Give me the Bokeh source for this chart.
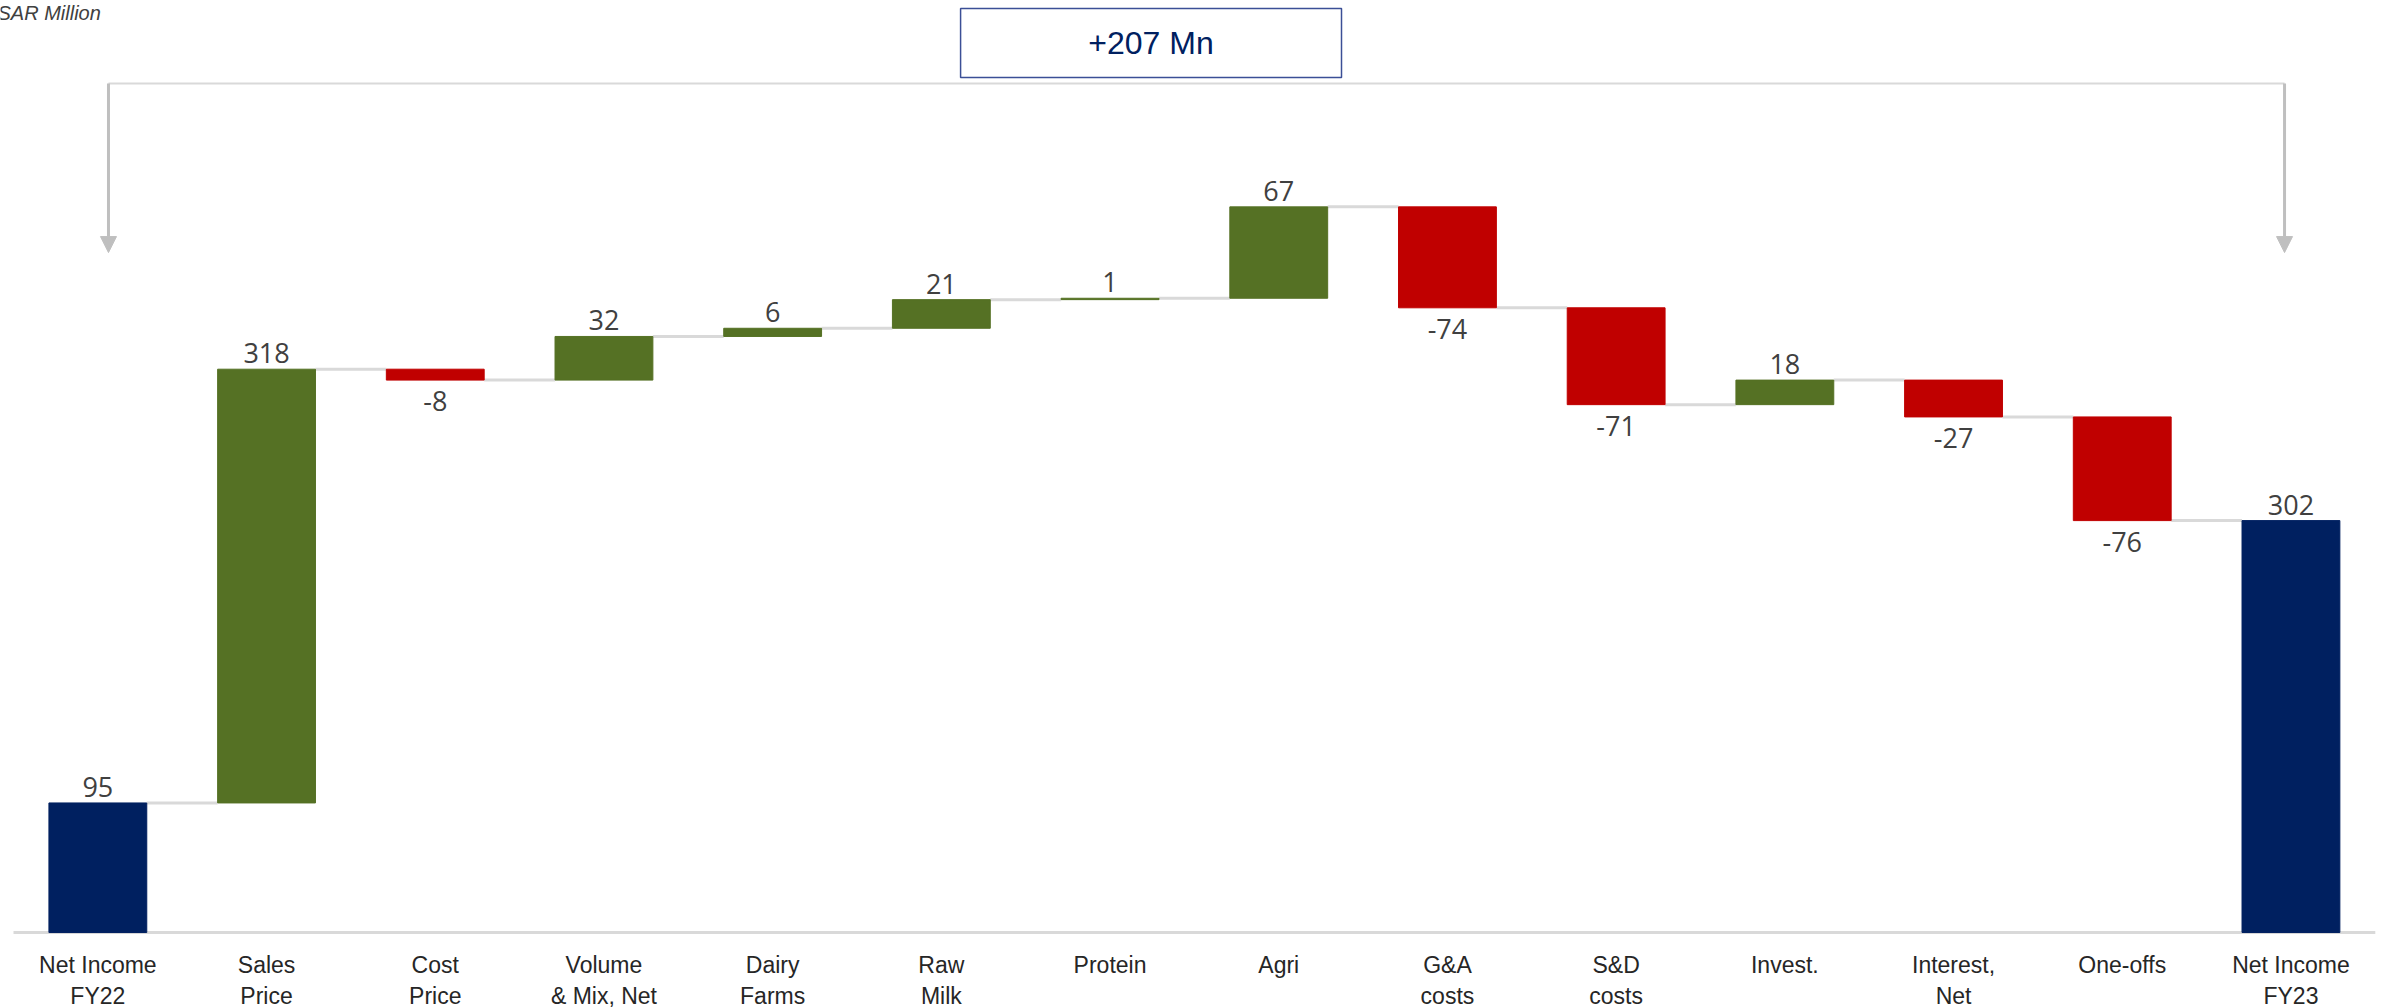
import numpy as np
from bokeh.plotting import figure
from bokeh.models import (ColumnDataSource, Range1d, Label, Arrow,
                          NormalHead, BoxAnnotation)
from bokeh.core.properties import value
from bokeh.embed import file_html
from bokeh.resources import INLINE

# ---- data ----
categories = ["Net Income\nFY22", "Sales\nPrice", "Cost\nPrice", "Volume\n& Mix, Net",
              "Dairy\nFarms", "Raw\nMilk", "Protein", "Agri", "G&A\ncosts", "S&D\ncosts",
              "Invest.", "Interest,\nNet", "One-offs", "Net Income\nFY23"]
values = [95, 318, -8, 32, 6, 21, 1, 67, -74, -71, 18, -27, -76, 302]
kinds = ["total", "delta", "delta", "delta", "delta", "delta", "delta", "delta",
         "delta", "delta", "delta", "delta", "delta", "total"]
unit_label = "SAR Million"
change_label = "+207 Mn"

NAVY = "#002060"
GREEN = "#557124"
RED = "#C00000"
GREY_TXT = "#404040"

# ---- waterfall geometry from data ----
n = len(categories)
xs = np.arange(n) + 0.5
bottoms, tops, colors, ends = [], [], [], []
level = 0.0
for v, k in zip(values, kinds):
    if k == "total":
        b, t = 0.0, float(v)
        level = float(v)
        c = NAVY
    else:
        b, t = (level, level + v) if v >= 0 else (level + v, level)
        level = level + v
        c = GREEN if v >= 0 else RED
    bottoms.append(b); tops.append(t); colors.append(c); ends.append(level)

W = 0.58
src = ColumnDataSource(dict(x=xs, bottom=bottoms, top=tops, color=colors))
cat_src = ColumnDataSource(dict(x=xs, y=np.zeros(n), label=categories))

XL, XR = -0.0771, 14.102
YTOP = 683.3
YBOT = -55.7   # room below the baseline for the category labels
p = figure(width=2392, height=1008, output_backend="svg", toolbar_location=None,
           x_range=Range1d(XL, XR), y_range=Range1d(YBOT, YTOP),
           min_border_left=0, min_border_right=0, min_border_top=0, min_border_bottom=0)
p.outline_line_color = None
p.xgrid.visible = False
p.ygrid.visible = False
p.yaxis.visible = False
p.xaxis.visible = False
p.background_fill_color = "white"

# baseline (category axis line)
p.segment(x0=[0], y0=[0], x1=[n], y1=[0], line_color="#D9D9D9", line_width=3)

# connectors
cx0 = xs[:-1] + W / 2
cx1 = xs[1:] - W / 2
cy = ends[:-1]
p.segment(x0=cx0, y0=cy, x1=cx1, y1=cy, line_color="#D9D9D9", line_width=3)

# bars
p.vbar(x="x", bottom="bottom", top="top", width=W, color="color", source=src)

# value labels
pos_x, pos_y, pos_t, neg_x, neg_y, neg_t = [], [], [], [], [], []
for x, v, k, b, t in zip(xs, values, kinds, bottoms, tops):
    if k == "total" or v >= 0:
        pos_x.append(x); pos_y.append(t); pos_t.append(str(v))
    else:
        neg_x.append(x); neg_y.append(b); neg_t.append(str(v))
p.text(x=pos_x, y=pos_y, text=pos_t, text_align="center", text_baseline="middle",
       y_offset=-16, text_font=value("Open Sans"), text_font_size="27px", text_color=GREY_TXT)
p.text(x=neg_x, y=neg_y, text=neg_t, text_align="center", text_baseline="middle",
       y_offset=21, text_font=value("Open Sans"), text_font_size="27px", text_color=GREY_TXT)

# category labels under the baseline
p.text(x="x", y="y", text="label", source=cat_src, y_offset=19,
       text_align="center", text_baseline="top", text_line_height=1.22,
       text_font=value("Liberation Sans"), text_font_size="23px", text_color="#262626")

# bracket with arrows
bx0, bx1 = 0.563, 13.462
by = 622.4
tip = 498.5
p.segment(x0=[bx0], y0=[by], x1=[bx1], y1=[by], line_color="#D9D9D9", line_width=2)
for bx in (bx0, bx1):
    p.add_layout(Arrow(end=NormalHead(size=16, fill_color="#BFBFBF", line_color="#BFBFBF"),
                       x_start=bx, y_start=by, x_end=bx, y_end=tip,
                       line_color="#BFBFBF", line_width=3))

# change box
p.add_layout(BoxAnnotation(left=5.614, right=7.872, bottom=626.8, top=677.4,
                           fill_color="white", fill_alpha=1.0,
                           line_color="#3B4F96", line_alpha=1.0, line_width=1.5))
p.add_layout(Label(x=(5.614 + 7.872) / 2, y=652.5, text=change_label,
                   text_align="center", text_baseline="middle",
                   text_font="Liberation Sans", text_font_size="32px", text_color=NAVY))

# unit label
p.add_layout(Label(x=XL - 0.018, y=674.5, text=unit_label,
                   text_align="left", text_baseline="middle", text_font_style="italic",
                   text_font="Liberation Sans", text_font_size="20px", text_color=GREY_TXT))

open("out.html", "w").write(file_html(p, INLINE))
